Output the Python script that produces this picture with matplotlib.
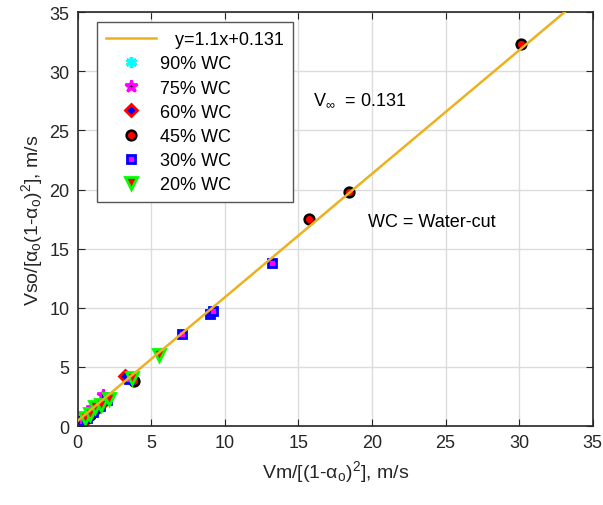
import matplotlib.pyplot as plt

plt.rcParams['font.family'] = ['Liberation Sans', 'DejaVu Sans']
plt.rcParams['mathtext.fontset'] = 'custom'
plt.rcParams['mathtext.rm'] = 'Liberation Sans'
plt.rcParams['mathtext.it'] = 'Liberation Sans:italic'
plt.rcParams['mathtext.default'] = 'regular'

# data
wc90_x = [0.15, 0.25, 0.35, 0.5, 0.7, 0.85, 1.0]
wc90_y = [0.3, 0.45, 0.55, 0.75, 0.95, 1.15, 1.3]
wc75_x = [0.2, 0.35, 0.5, 0.7, 0.95, 1.7]
wc75_y = [0.45, 0.5, 0.7, 0.9, 1.5, 2.6]
wc60_x = [0.4, 0.6, 0.9, 1.1, 1.5, 3.2]
wc60_y = [0.45, 0.7, 1.0, 1.3, 1.8, 4.2]
wc45_x = [0.3, 0.8, 1.4, 3.8, 15.7, 18.4, 30.1]
wc45_y = [0.4, 0.9, 1.6, 3.8, 17.5, 19.8, 32.3]
wc30_x = [0.3, 0.6, 1.0, 1.5, 2.0, 3.5, 7.1, 9.0, 9.2, 13.2]
wc30_y = [0.4, 0.7, 1.2, 1.7, 2.2, 4.0, 7.8, 9.5, 9.7, 13.8]
wc20_x = [0.5, 0.8, 1.2, 1.6, 2.1, 3.7, 5.5]
wc20_y = [0.7, 1.0, 1.6, 1.8, 2.3, 4.1, 6.0]

# fitted line as drawn (end points)
fit_x = [0, 35]
fit_y = [0.45, 37.0]

fig, ax = plt.subplots(figsize=(6.03, 5.06), dpi=100)
fig.subplots_adjust(left=0.129, right=0.983, top=0.974, bottom=0.156)

ax.plot(fit_x, fit_y, color='#EDB120', lw=1.8,
        label='   y=1.1x+0.131', zorder=3)

ax.plot(wc90_x, wc90_y, ls='none', marker=(6, 2, 0), color='cyan',
        mec='cyan', ms=8, mew=2.5, label='90% WC', zorder=2)
ax.plot(wc75_x, wc75_y, ls='none', marker='*', mfc='black', mec='magenta',
        ms=9, mew=2, label='75% WC', zorder=2)
ax.plot(wc60_x, wc60_y, ls='none', marker='D', mfc='blue', mec='red',
        ms=6, mew=2, label='60% WC', zorder=2)
ax.plot(wc45_x, wc45_y, ls='none', marker='o', mfc='red', mec='black',
        ms=7, mew=1.8, label='45% WC', zorder=2)
ax.plot(wc30_x, wc30_y, ls='none', marker='s', mfc='magenta', mec='blue',
        ms=6, mew=2, label='30% WC', zorder=2)
ax.plot(wc20_x, wc20_y, ls='none', marker='v', mfc='red', mec='#00ff00',
        ms=8, mew=2, label='20% WC', zorder=2)

ax.text(16.0, 27.2, 'V$_{∞}$  = 0.131', fontsize=13)
ax.text(19.7, 16.9, 'WC = Water-cut', fontsize=13)

ax.set_xlim(0, 35)
ax.set_ylim(0, 35)
ax.set_xticks(range(0, 36, 5))
ax.set_yticks(range(0, 36, 5))
ax.grid(True, color='#dcdcdc', lw=1)
ax.set_axisbelow(True)
ax.tick_params(direction='in', length=5, labelsize=13, colors='#262626',
               top=True, right=True, pad=6)
for s in ax.spines.values():
    s.set_color('#262626')
    s.set_linewidth(1.2)

ax.set_xlabel('Vm/[(1-α$_o$)$^2$], m/s', fontsize=14,
              color='#262626', labelpad=5)
ax.set_ylabel('Vso/[α$_o$(1-α$_o$)$^2$], m/s', fontsize=14,
              color='#262626', labelpad=3)

leg = ax.legend(loc='upper left', bbox_to_anchor=(0.037, 0.976), fontsize=13,
                fancybox=False, edgecolor='#555555', framealpha=1,
                handlelength=2.8, handletextpad=0.2, borderpad=0.5,
                labelspacing=0.4, borderaxespad=0)
leg.get_frame().set_linewidth(1.0)

plt.savefig('out.png', dpi=100)
